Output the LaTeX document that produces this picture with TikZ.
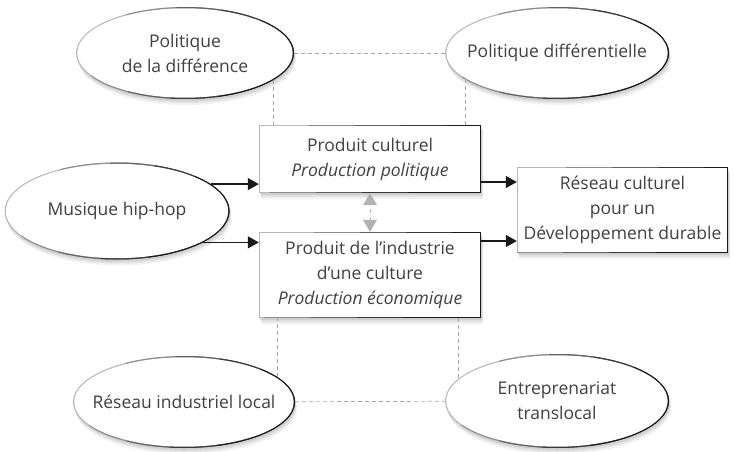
\documentclass[tikz,border=0pt]{standalone}
\usepackage{fontspec}
\setmainfont{Open Sans}
\usetikzlibrary{shapes.geometric,shadows,arrows.meta}
\begin{document}
\begin{tikzpicture}[x=1pt,y=-1pt,
  txt/.style={font=\fontsize{17.5}{25}\selectfont, text=black!75, align=center},
  softshadow/.style={
    drop shadow={shadow xshift=1pt,shadow yshift=-2pt,opacity=.08,fill=black},
    drop shadow={shadow xshift=1.5pt,shadow yshift=-4pt,opacity=.07,fill=black},
    drop shadow={shadow xshift=2pt,shadow yshift=-6pt,opacity=.05,fill=black}},
  rim/.style={inner sep=0pt, softshadow, fill=black!28},
  arr/.style={line width=1.2pt, black!90, -{Triangle[length=11pt,width=12pt]}},
  garr/.style={line width=0.8pt, black!30, {Triangle[length=12pt,width=14pt]}-{Triangle[length=12pt,width=14pt]},
    dash pattern=on 4pt off 4pt, dash phase=4pt},
  gdash/.style={line width=0.7pt, black!35, dash pattern=on 4pt off 3pt}
]
\useasboundingbox (0,0) rectangle (734,452);
% ---- ellipses: rim with graded dark edge toward lower right, white face
\foreach \n/\x/\y/\w/\h in {pd/185/53/218/92, pdf/557/53/224/92, mh/117/211/225/97, ril/184/402/222/92, et/557/401/224/94}{
  \node[ellipse, rim, minimum width=\w, minimum height=\h] (\n) at (\x,\y) {};
  \foreach \t/\c in {-70/45,-30/62,10/78,50/90}{
    \begin{scope}
      \clip[rotate around={-30:(\x,\y)}] (\x+\t,\y-300) rectangle (\x+\t+300,\y+300);
      \fill[black!\c] (\x,\y) ellipse [x radius=\w/2, y radius=\h/2];
    \end{scope}
  }
  \fill[white] (\x,\y) ellipse [x radius=\w/2-1.3, y radius=\h/2-1.3];
}
% ---- boxes
\foreach \n/\x/\y/\w/\h in {b1/370/159/222/68, b2/370/275/222/86, rc/622.5/210/211/86}{
  \node[rectangle, rim, minimum width=\w, minimum height=\h] (\n) at (\x,\y) {};
  \foreach \t/\c in {-70/45,-30/62,10/78,50/90}{
    \begin{scope}
      \clip[rotate around={-30:(\x,\y)}] (\x+\t,\y-300) rectangle (\x+\t+300,\y+300);
      \fill[black!\c] (\x-\w/2,\y-\h/2) rectangle (\x+\w/2,\y+\h/2);
    \end{scope}
  }
  \fill[white] (\x-\w/2+1.3,\y-\h/2+1.3) rectangle (\x+\w/2-1.3,\y+\h/2-1.3);
}
% ---- texts
\node[txt] (tpd) at (pd) {Politique\\de la différence};
\node[txt] (tpdf) at (pdf) {Politique différentielle};
\node[txt] (tmh) at (mh) {Musique hip-hop};
\node[txt] (tril) at (ril) {Réseau industriel local};
\node[txt] (tet) at (et) {Entreprenariat\\translocal};
\node[txt] (tb1) at (b1) {Produit culturel\\\textit{Production politique}};
\node[txt] (tb2) at (b2) {Produit de l’industrie\\d’une culture\\\textit{Production économique}};
\node[txt] (trc) at (rc) {Réseau culturel\\pour un\\Développement durable};
% dashed links
\draw[gdash] (pd) -- (pdf);
\draw[gdash] (ril) -- (et);
\draw[gdash] (pd.-17) -- (pd.-17 |- b1.north);
\draw[gdash] (pdf.196) -- (pdf.196 |- b1.north);
\draw[gdash] (ril.15) -- (ril.15 |- b2.south);
\draw[gdash] (et.167) -- (et.167 |- b2.south);
% arrows
\draw[arr] (mh.16) -- (mh.16 -| b1.west);
\draw[arr] (mh.-20) -- (mh.-20 -| b2.west);
\draw[arr] ([yshift=-23pt]b1.east) -- ([yshift=-23pt]b1.east -| rc.west);
\draw[arr] ([yshift=34pt]b2.east) -- ([yshift=34pt]b2.east -| rc.west);
\draw[garr] (b1.south) -- (b2.north);
\end{tikzpicture}
\end{document}
